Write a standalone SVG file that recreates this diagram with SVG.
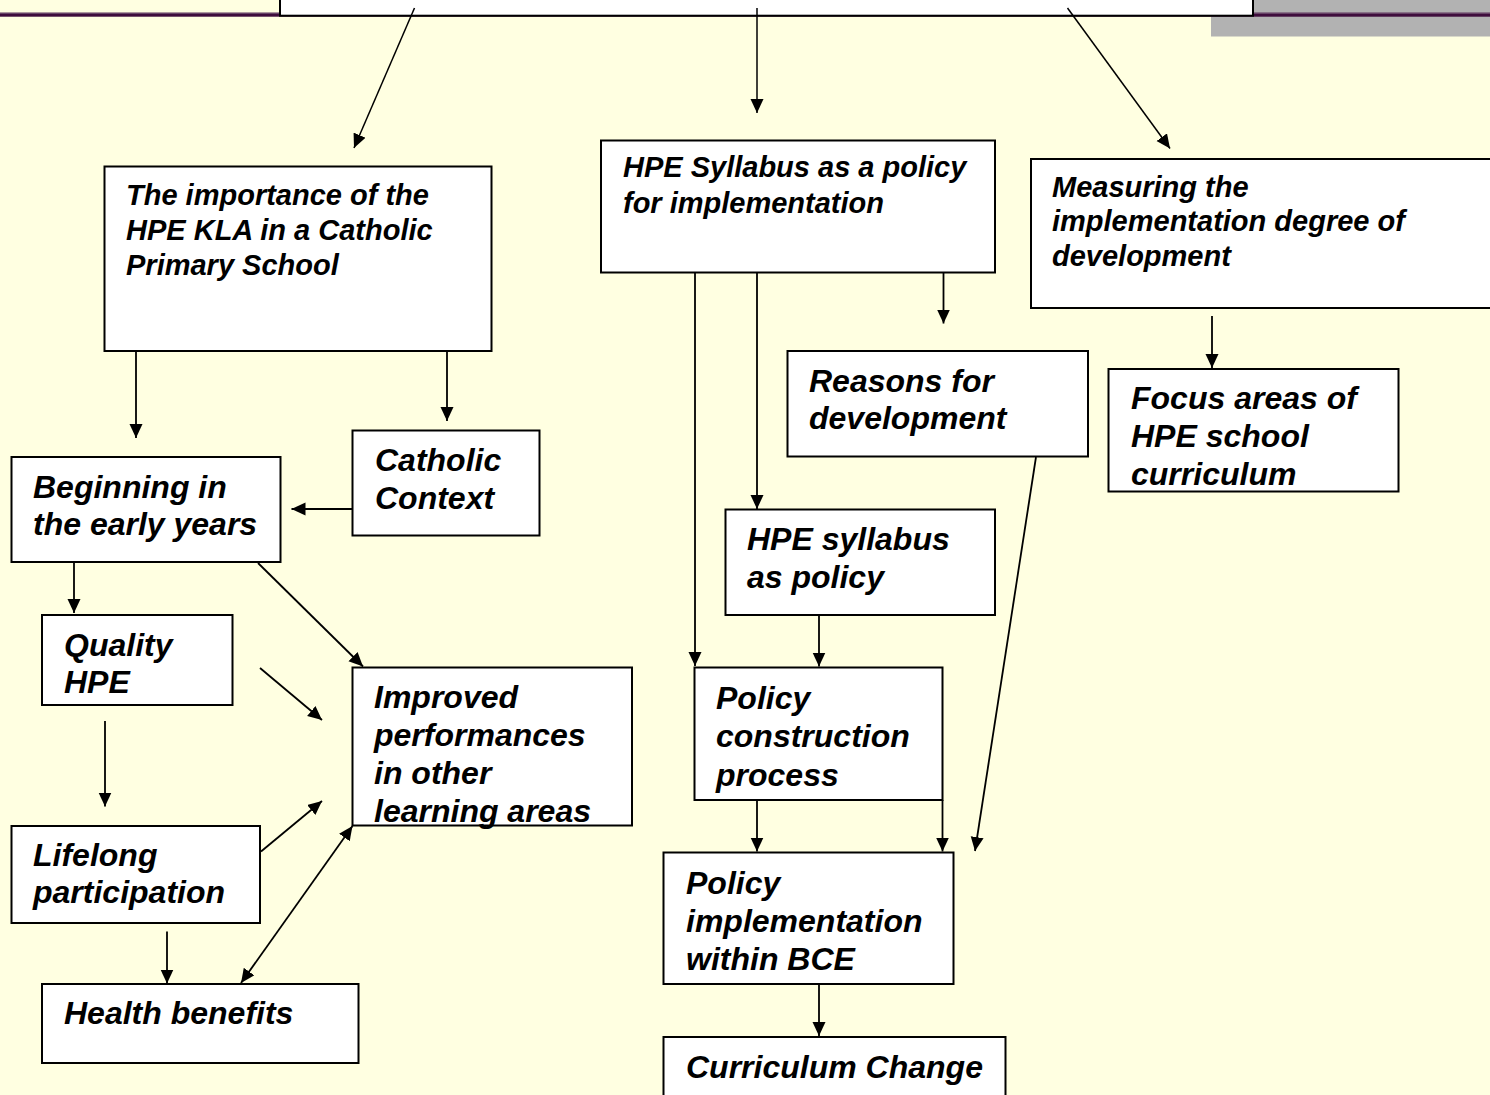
<svg xmlns="http://www.w3.org/2000/svg" width="1490" height="1095" viewBox="0 0 1490 1095">
<defs>
<style>
.box{fill:#ffffff;stroke:#000000;stroke-width:2}
.t29{font-family:"Liberation Sans",Arial,sans-serif;font-weight:bold;font-style:italic;font-size:29px;fill:#000000}
.t32{font-family:"Liberation Sans",Arial,sans-serif;font-weight:bold;font-style:italic;font-size:32px;fill:#000000}
.c{fill:none;stroke:#000000;stroke-width:1.8}
.ct{fill:none;stroke:#000000;stroke-width:1.5}
.a{marker-end:url(#ah)}
</style>
<marker id="ah" markerUnits="userSpaceOnUse" markerWidth="15" markerHeight="14" refX="14" refY="6.5" orient="auto-start-reverse">
<path d="M0,0 L14,6.5 L0,13 z" fill="#000000"/>
</marker>
</defs>
<rect x="0" y="0" width="1490" height="1095" fill="#ffffe1"/>
<rect x="1211" y="0" width="279" height="36.5" fill="#b2b2b2"/>
<rect x="0" y="12.7" width="1490" height="4" fill="#3f0d3d"/>
<rect x="0" y="12.7" width="1490" height="1" fill="#7a5a78"/>

<g id="top">
<rect class="box" x="280" y="-10" width="973" height="25.7"/>
</g>

<g id="importance">
<rect class="box" x="104.5" y="166.5" width="387" height="184.5"/>
<text class="t29" x="126" y="205">The importance of the</text>
<text class="t29" x="126" y="240">HPE KLA in a Catholic</text>
<text class="t29" x="126" y="275">Primary School</text>
</g>

<g id="syllabus-policy-implementation">
<rect class="box" x="601" y="140.5" width="394" height="132"/>
<text class="t29" x="623" y="177">HPE Syllabus as a policy</text>
<text class="t29" x="623" y="213">for implementation</text>
</g>

<g id="measuring">
<rect class="box" x="1031" y="159" width="480" height="149"/>
<text class="t29" x="1052" y="197">Measuring the</text>
<text class="t29" x="1052" y="231">implementation degree of</text>
<text class="t29" x="1052" y="266">development</text>
</g>

<g id="reasons">
<rect class="box" x="787.5" y="351" width="300.5" height="105.5"/>
<text class="t32" x="809" y="392">Reasons for</text>
<text class="t32" x="809" y="429">development</text>
</g>

<g id="focus">
<rect class="box" x="1108.5" y="369" width="290" height="122.5"/>
<text class="t32" x="1131" y="409">Focus areas of</text>
<text class="t32" x="1131" y="447">HPE school</text>
<text class="t32" x="1131" y="485">curriculum</text>
</g>

<g id="syllabus-as-policy">
<rect class="box" x="725.5" y="509.5" width="269.5" height="105.5"/>
<text class="t32" x="747" y="550">HPE syllabus</text>
<text class="t32" x="747" y="588">as policy</text>
</g>

<g id="construction">
<rect class="box" x="694.5" y="667.5" width="248" height="132.5"/>
<text class="t32" x="716" y="709">Policy</text>
<text class="t32" x="716" y="747">construction</text>
<text class="t32" x="716" y="786">process</text>
</g>

<g id="implementation">
<rect class="box" x="663.5" y="852.5" width="290" height="131.5"/>
<text class="t32" x="686" y="894">Policy</text>
<text class="t32" x="686" y="932">implementation</text>
<text class="t32" x="686" y="970">within BCE</text>
</g>

<g id="curriculum-change">
<rect class="box" x="663.5" y="1037" width="342" height="80"/>
<text class="t32" x="686" y="1078">Curriculum Change</text>
</g>

<g id="beginning">
<rect class="box" x="11.5" y="457" width="269" height="105"/>
<text class="t32" x="33" y="498">Beginning in</text>
<text class="t32" x="33" y="535">the early years</text>
</g>

<g id="catholic">
<rect class="box" x="352.5" y="430.5" width="187" height="105"/>
<text class="t32" x="375" y="471">Catholic</text>
<text class="t32" x="375" y="509">Context</text>
</g>

<g id="quality">
<rect class="box" x="42" y="615" width="190.5" height="90"/>
<text class="t32" x="64" y="656">Quality</text>
<text class="t32" x="64" y="693">HPE</text>
</g>

<g id="improved">
<rect class="box" x="352.5" y="667.5" width="279.5" height="158"/>
<text class="t32" x="374" y="708">Improved</text>
<text class="t32" x="374" y="746">performances</text>
<text class="t32" x="374" y="784">in other</text>
<text class="t32" x="374" y="822">learning areas</text>
</g>

<g id="lifelong">
<rect class="box" x="11.5" y="826" width="248.5" height="97"/>
<text class="t32" x="33" y="866">Lifelong</text>
<text class="t32" x="33" y="903">participation</text>
</g>

<g id="health">
<rect class="box" x="42" y="984" width="316.5" height="79"/>
<text class="t32" x="64" y="1024">Health benefits</text>
</g>

<g id="connectors">
<line class="ct a" x1="414.5" y1="8" x2="354" y2="148"/>
<line class="ct a" x1="757" y1="8" x2="757" y2="113"/>
<line class="ct a" x1="1067.5" y1="8" x2="1170" y2="148.5"/>

<line class="c a" x1="136" y1="351" x2="136" y2="438"/>
<line class="c a" x1="447" y1="351" x2="447" y2="421"/>
<line class="c a" x1="352.5" y1="509" x2="291.5" y2="509"/>
<line class="c a" x1="74" y1="562" x2="74" y2="613"/>
<line class="c a" x1="258" y1="563" x2="363" y2="666.5"/>
<line class="c a" x1="260" y1="668" x2="322" y2="720"/>
<line class="c a" x1="105" y1="721" x2="105" y2="806.5"/>
<line class="c a" x1="261" y1="851.5" x2="322" y2="801"/>
<line class="c a" x1="167" y1="931.5" x2="167" y2="983.5"/>
<line class="c a" x1="241" y1="983" x2="352.5" y2="826" style="marker-start:url(#ah)"/>

<line class="c a" x1="943.5" y1="272.5" x2="943.5" y2="323.5"/>
<line class="c a" x1="757" y1="272.5" x2="757" y2="509"/>
<line class="c a" x1="695" y1="272.5" x2="695" y2="666"/>
<line class="c a" x1="819" y1="615" x2="819" y2="666.5"/>
<line class="c a" x1="757" y1="800" x2="757" y2="851.5"/>
<line class="c a" x1="942.5" y1="800" x2="942.5" y2="851.5"/>
<line class="c a" x1="1036" y1="457" x2="975" y2="851"/>
<line class="c a" x1="819" y1="984" x2="819" y2="1036"/>
<line class="c a" x1="1212" y1="316" x2="1212" y2="368"/>
</g>
</svg>
